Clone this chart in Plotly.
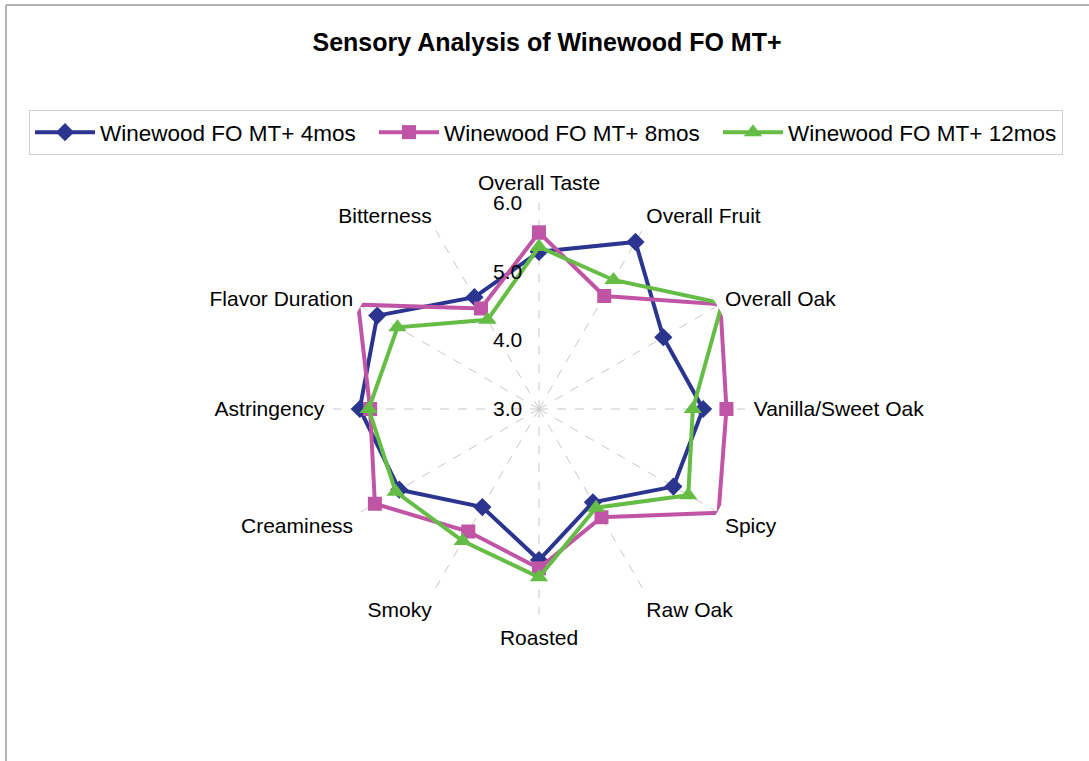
import plotly.graph_objects as go

categories = ["Overall Taste", "Overall Fruit", "Overall Oak", "Vanilla/Sweet Oak", "Spicy",
              "Raw Oak", "Roasted", "Smoky", "Creaminess", "Astringency", "Flavor Duration", "Bitterness"]
series_names = ["Winewood FO MT+ 4mos", "Winewood FO MT+ 8mos", "Winewood FO MT+ 12mos"]
vals_4mos = [5.29, 5.81, 5.09, 5.39, 5.26, 4.57, 5.20, 4.65, 5.35, 5.61, 5.72, 4.88]
vals_8mos = [5.57, 4.90, 6.05, 5.73, 6.02, 4.82, 5.32, 5.06, 5.76, 5.46, 6.04, 4.69]
vals_12mos = [5.36, 5.17, 6.08, 5.24, 5.51, 4.66, 5.45, 5.22, 5.41, 5.48, 5.38, 4.50]
tick_vals = [3.0, 4.0, 5.0, 6.0]
tick_text = ["3.0", "4.0", "5.0", "6.0"]

colors = ["#2B3590", "#C055A6", "#66BD45"]
symbols = ["diamond", "square", "triangle-up"]
msizes = [14, 14, 16]
all_vals = [vals_4mos, vals_8mos, vals_12mos]

W, H = 1089, 761
FONT = "Liberation Sans, Arial, sans-serif"

fig = go.Figure()
for name, vals, c, s, ms in zip(series_names, all_vals, colors, symbols, msizes):
    fig.add_trace(go.Scatterpolar(
        r=vals + [vals[0]],
        theta=categories + [categories[0]],
        mode="lines+markers",
        name=name,
        line=dict(color=c, width=4),
        marker=dict(symbol=s, size=ms, color=c),
        cliponaxis=False,
    ))

cx, cy, R = 539, 409, 206
fig.update_layout(
    width=W, height=H,
    margin=dict(l=0, r=0, t=0, b=0),
    paper_bgcolor="white",
    plot_bgcolor="white",
    font=dict(family=FONT, size=21, color="black"),
    title=dict(text="<b>Sensory Analysis of Winewood FO MT+</b>",
               x=547 / W, xanchor="center", y=1 - 42 / H, yanchor="middle",
               font=dict(family=FONT, size=25, color="black")),
    polar=dict(
        domain=dict(x=[(cx - R) / W, (cx + R) / W],
                    y=[(H - cy - R) / H, (H - cy + R) / H]),
        bgcolor="white",
        radialaxis=dict(range=[3, 6], tickvals=tick_vals, ticktext=tick_text,
                        angle=90, tickangle=90, side="counterclockwise",
                        showline=False, showgrid=False,
                        ticks="outside", ticklen=9, tickcolor="rgba(0,0,0,0)",
                        tickfont=dict(family=FONT, size=21, color="black")),
        angularaxis=dict(direction="clockwise", rotation=90,
                         showline=False,
                         ticks="outside", ticklen=4, tickcolor="rgba(0,0,0,0)",
                         gridcolor="#C8C8C8", griddash="dash", gridwidth=1,
                         tickfont=dict(family=FONT, size=21, color="black")),
    ),
    legend=dict(orientation="h", x=29 / W, xanchor="left", y=1 - 110 / H, yanchor="top",
                bordercolor="#D0D0D0", borderwidth=1,
                font=dict(family=FONT, size=22.5, color="black"),
                entrywidth=269, entrywidthmode="pixels", itemwidth=60),
    shapes=[
        dict(type="line", xref="paper", yref="paper", x0=6 / W, x1=1, y0=1 - 5 / H, y1=1 - 5 / H,
             line=dict(color="#B4B4B4", width=2)),
        dict(type="line", xref="paper", yref="paper", x0=6 / W, x1=6 / W, y0=0, y1=1 - 5 / H,
             line=dict(color="#B4B4B4", width=2)),
    ],
)

fig.write_html("out.html", config={"displayModeBar": False},
               post_script="document.body.style.margin='0px';")
